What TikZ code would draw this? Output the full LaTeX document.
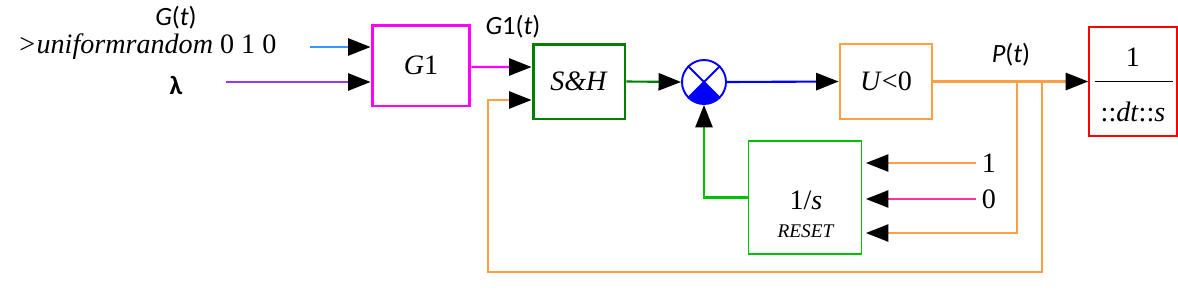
\documentclass[tikz,border=0pt]{standalone}
\usepackage{xcolor}
\usepackage{fontspec}
\setmainfont{Liberation Serif}
\newfontfamily\signalfont{Carlito}
\usepackage{tikz}
\usetikzlibrary{arrows.meta, positioning, calc}
\definecolor{blkmagenta}{HTML}{FF00FF}
\definecolor{blkdarkgreen}{HTML}{008000}
\definecolor{blkgreen}{HTML}{00C000}
\definecolor{blkorange}{HTML}{FFA040}
\definecolor{blkblue}{HTML}{0000FF}
\definecolor{blkred}{HTML}{FF0000}
\definecolor{inblue}{HTML}{3399FF}
\definecolor{inpurple}{HTML}{9933FF}
\definecolor{inpink}{HTML}{FF3399}

\begin{document}
\begin{tikzpicture}[
    x=0.02cm, y=-0.02cm,
    >={Triangle[length=12.8pt, width=9.8pt, color=black]},
    font=\fontsize{16}{19}\selectfont,
    block/.style={rectangle, draw, minimum width=1.84cm, minimum height=1.5cm,
                  inner sep=0pt, font=\fontsize{16}{19}\selectfont},
    signal/.style={inner sep=0pt, font=\signalfont\fontsize{15}{18}\selectfont},
    wire/.style={->, line width=1.2pt}
]
\useasboundingbox (0,0) rectangle (1178,298);

\node[block, draw=blkmagenta, line width=1.7pt, minimum width=1.96cm, minimum height=1.62cm] (g1) at (421,65.5) {\textit{G}1};
\node[block, draw=blkdarkgreen, line width=1.7pt] (sh) at (579,81.5) {\textit{S\&H}};
\node[circle, draw=blkblue, line width=1.1pt, minimum size=0.88cm, inner sep=0pt] (mult) at (704,82) {};
\node[block, draw=blkorange, line width=1.6pt] (u0) at (886,81.5) {\textit{U}<0};
\node[block, draw=blkred, line width=0.9pt, minimum width=1.76cm, minimum height=2.18cm] (integ) at (1133,81.5) {};
\node[block, draw=blkgreen, line width=1.1pt, minimum width=2.26cm, minimum height=2.26cm] (rst) at (805,197.5) {};

\fill[blkblue] (mult.center) -- ++(225:0.44cm) arc[start angle=225, end angle=315, radius=0.44cm] -- cycle;
\draw[blkblue, line width=1.1pt] (mult.north west) -- (mult.south east);
\draw[blkblue, line width=1.1pt] (mult.north east) -- (mult.south west);

\node (integnum) at (1133,57) {1};
\node (integden) at (1133,112) {::\textit{dt}::\textit{s}};
\draw[line width=1pt] ($(integ.west)+(7,0)$) -- ($(integ.east)+(-5,0)$);
\node (rstfrac) at (806,200) {1/\textit{s}};
\node (rstname) at (806,231) {\fontsize{11}{13}\selectfont\textit{RESET}};

\node[signal] (gt) at (176,18) {\textit{G}(\textit{t})};
\node (rand) at (147,47) {\textit{>uniformrandom} 0 1 0};
\node[signal] (lam) at (176,85) {\bfseries λ};
\node[signal] (g1t) at (513,27) {\textit{G}1(\textit{t})};
\node[signal] (pt) at (1011,55) {\textit{P}(\textit{t})};
\node (one) at (989,163) {1};
\node (zero) at (989,199) {0};

\coordinate (randend) at (310,47);
\coordinate (lamend) at (226,82);
\coordinate (oneend) at (976,163);
\coordinate (zeroend) at (976,199);
\coordinate (tapa) at (1017,82);
\coordinate (tapb) at (1042,82);
\coordinate (loopb) at (488,272);

\draw[wire, draw=inblue] (randend) -- (randend -| g1.west);
\draw[wire, draw=inpurple] (lamend) -- (lamend -| g1.west);
\draw[wire, draw=blkmagenta] ($(g1.east)+(0,1.5)$) -- ($(sh.west)+(0,-14.5)$);
\draw[wire, draw=blkdarkgreen] (sh.east) -- (mult.west);
\draw[wire, draw=blkblue] (mult.east) -- (u0.west);
\draw[wire, draw=blkorange] (u0.east) -- (integ.west);
\draw[wire, draw=blkorange, shorten >=2pt] (tapa) |- ($(rst.east)+(0,35.5)$);
\draw[wire, draw=blkorange] (tapb) |- (loopb) |- ($(sh.west)+(0,18.5)$);
\draw[wire, draw=blkorange, shorten >=2pt] (oneend) -- (oneend -| rst.east);
\draw[wire, draw=inpink, shorten >=2pt] (zeroend) -- (zeroend -| rst.east);
\draw[wire, draw=blkgreen] (rst.west) -| (mult.south);
\end{tikzpicture}
\end{document}
